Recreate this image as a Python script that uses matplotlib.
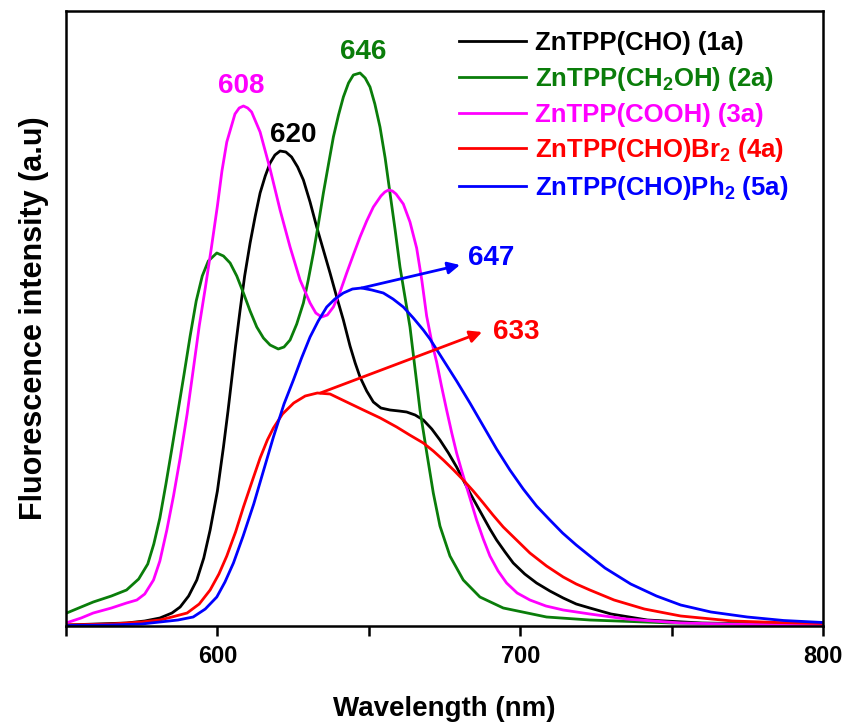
import matplotlib
matplotlib.use('Agg')
import matplotlib.pyplot as plt
import numpy as np

plt.rcParams['font.family'] = ['Liberation Sans', 'DejaVu Sans']
plt.rcParams['font.weight'] = 'bold'
plt.rcParams['mathtext.fontset'] = 'custom'
plt.rcParams['mathtext.default'] = 'bf'
plt.rcParams['mathtext.bf'] = 'Liberation Sans:bold'
plt.rcParams['mathtext.rm'] = 'Liberation Sans:bold'

# ZnTPP(CHO) (1a)
wl_1a = [550, 560, 570, 576, 581, 585, 587.7, 590.5, 593.2, 595.5, 597.6, 600, 602, 603.5,
         604.7, 606, 607.5, 609, 610.8, 612.5, 614.1, 615.8, 617.4, 619, 620.7, 622.6, 624.5,
         626.5, 628.4, 630.6, 632.8, 635, 637.2, 639.4, 641.6, 643.8, 645.5, 647.1, 649.3,
         651.5, 654, 657, 660, 662.5, 665.3, 668, 670.8, 673.5, 676.3, 679, 681.2, 683.4,
         685.6, 687.8, 690, 692.2, 695, 697.7, 701.5, 705.4, 709.8, 714.2, 718.5, 723, 730,
         742, 760, 780, 800]
int_1a = [1, 2, 3, 5, 8, 13, 19, 30, 46, 68, 96, 135, 179, 215,
          246, 280, 316, 350, 383, 410, 433, 450, 463, 471, 475, 474, 469,
          459, 446, 424, 399, 376, 353, 329, 306, 280, 263, 249, 235,
          224, 218, 216, 215, 214, 211, 206, 197, 186, 173, 159, 146, 133,
          121, 109, 97, 86, 74, 63, 52, 43, 35, 28, 22, 18, 12,
          6, 3, 2, 1.5]

# ZnTPP(CH2OH) (2a)
wl_2a = [550, 555, 559, 565, 570, 574, 577, 579, 581, 583, 585, 587, 589, 591, 593,
         595, 597, 599.8, 602, 604.2, 606.4, 608.6, 610.8, 613, 615.2, 617.4,
         620.1, 622, 624, 626.2, 628.4, 630, 631.7, 633.4, 635, 636.7, 638.3, 640, 641.6,
         643.3, 644.9, 647.1, 648.8, 650.4, 652, 653.7, 655.4, 657, 658.7, 660.3, 662, 663.6,
         665.8, 666.9, 669.1, 671.3, 673.5, 676.8, 681.2, 686.7, 694.4, 708.7, 723, 750, 800]
int_2a = [12.7, 19, 24, 30, 36, 47, 62, 82, 108, 142, 178, 215, 252, 290, 325,
          350, 365, 373, 370, 363, 350, 333, 315, 299, 288, 281,
          277, 279, 286, 302, 323, 346, 373, 403, 433, 462, 489, 511, 529,
          543, 551, 553, 548, 539, 522, 499, 468, 433, 396, 359, 328, 299,
          244, 216, 174, 133, 100, 70, 46, 29, 18, 9, 6, 3, 1.5]

# ZnTPP(COOH) (3a)
wl_3a = [550, 555, 559, 565, 570, 573.4, 576, 578.9, 581, 583.3, 585.5, 587.7, 590, 592.1,
         594, 596, 598, 600, 601.5, 603.1, 605.8, 607.2, 608.6, 610, 611.3, 614.1, 617.4,
         620.7, 624, 627.3, 630.6, 632.5, 634.4, 636.3, 638.3, 640.5, 642.7, 645, 647.1,
         649.3, 651.5, 654, 655.3, 656.5, 657.8, 659, 661.4, 663.6, 665.8, 667.5, 669.1,
         670.8, 672.4, 674, 675.7, 677.4, 679, 680.7, 682.3, 684, 685.6, 687.8, 690, 692.7,
         695.5, 699, 703.2, 708.5, 714.2, 723, 735, 753, 775, 800]
int_3a = [3, 8, 13, 18, 23, 26, 32, 46, 65, 96, 130, 168, 212, 258,
          300, 338, 378, 420, 455, 484, 512, 518, 520, 518, 514, 494, 457,
          416, 379, 346, 323, 313, 309, 311, 319, 334, 353, 372, 389,
          405, 419, 430, 434, 436, 435, 432, 422, 404, 378, 346, 310,
          284, 264, 240, 216, 193, 173, 155, 139, 122, 106, 87, 70, 55,
          43, 33, 26, 20, 16, 12, 7, 3, 1.5, 1]

# ZnTPP(CHO)Br2 (4a)
wl_4a = [550, 565, 575, 581, 585, 590, 594, 597.6, 600.5, 603.1, 606, 608.6, 611.5, 614.1,
         616.5, 618.5, 621.5, 625.2, 629, 633, 637.2, 642, 648.2, 653.8, 659.2, 663.5, 668,
         671.3, 674.6, 678, 681.2, 684.5, 687.8, 691, 694.4, 698.8, 703.2, 708.7, 714.2,
         718.5, 723, 731, 741, 753, 770, 785, 800]
int_4a = [1, 2, 4, 6, 9, 13, 22, 36, 52, 70, 94, 119, 145, 168,
          186, 198, 212, 223, 230, 233, 232, 225, 216, 208, 199, 191, 183,
          175, 166, 156, 146, 135, 123, 111, 99, 86, 73, 60, 49,
          42, 36, 26, 17, 10, 5, 3.5, 2.5]

# ZnTPP(CHO)Ph2 (5a)
wl_5a = [550, 565, 575, 581, 587, 592, 596, 599.8, 602.5, 605.3, 608.5, 612, 615, 618.5,
         622, 625.1, 627.8, 630.6, 633.3, 636.1, 638.8, 641.6, 644.6, 647.6, 651, 654.8, 658,
         661.4, 664.7, 668, 670.2, 674.6, 679, 683.4, 687.8, 692.2, 696.6, 701, 705.4, 709.8,
         714, 718.5, 723, 728, 736.5, 745, 753, 763, 775, 787, 800]
int_5a = [0.5, 1, 2, 4, 6, 9, 17, 29, 44, 63, 90, 122, 153, 189,
          222, 246, 268, 289, 305, 319, 327, 333, 337, 338, 336, 333, 327,
          319, 308, 296, 287, 266, 245, 223, 200, 177, 156, 137, 120, 106,
          93, 81, 70, 58, 42, 30, 21, 14, 9, 5.5, 3.5]

labels = ['ZnTPP(CHO) (1a)', 'ZnTPP(CH$_2$OH) (2a)', 'ZnTPP(COOH) (3a)',
          'ZnTPP(CHO)Br$_2$ (4a)', 'ZnTPP(CHO)Ph$_2$ (5a)']
colors = ['black', '#0a7d0a', '#ff00ff', '#ff0000', '#0000ff']

fig = plt.figure(figsize=(8.47, 7.27), dpi=100)
ax = fig.add_axes([66 / 847, 1 - 626 / 727, 757 / 847, 615 / 727])

series = [(wl_1a, int_1a), (wl_2a, int_2a), (wl_3a, int_3a), (wl_4a, int_4a), (wl_5a, int_5a)]
for (wl, inten), lab, c in zip(series, labels, colors):
    ax.plot(wl, inten, color=c, lw=2, label=lab, solid_joinstyle='round')

# peak labels
ax.text(607.8, 540, '608', color='#ff00ff', fontsize=20, ha='center', va='center')
ax.text(625, 491, '620', color='black', fontsize=20, ha='center', va='center')
ax.text(648.1, 574, '646', color='#0a7d0a', fontsize=20, ha='center', va='center')
ax.text(690.4, 368, '647', color='#0000ff', fontsize=20, ha='center', va='center')
ax.text(698.6, 294, '633', color='#ff0000', fontsize=20, ha='center', va='center')
ax.annotate('', xy=(680.1, 361), xytext=(647.6, 338),
            arrowprops=dict(arrowstyle='-|>', color='#0000ff', lw=2, mutation_scale=18,
                            shrinkA=0, shrinkB=0))
ax.annotate('', xy=(687.4, 294), xytext=(634, 233),
            arrowprops=dict(arrowstyle='-|>', color='#ff0000', lw=2, mutation_scale=18,
                            shrinkA=0, shrinkB=0))

ax.set_xlim(550, 800)
ax.set_ylim(0, 615)
ax.set_xticks([550, 600, 650, 700, 750, 800])
ax.set_xticklabels(['', '600', '', '700', '', '800'])
ax.set_yticks([])
ax.tick_params(axis='x', direction='out', length=7, width=1.8, labelsize=17, pad=7)
for sp in ax.spines.values():
    sp.set_linewidth(1.8)

ax.set_xlabel('Wavelength (nm)', fontsize=20, fontweight='bold', labelpad=20)
ax.set_ylabel('Fluorescence intensity (a.u)', fontsize=22, fontweight='bold', labelpad=12)

leg = ax.legend(loc='upper right', bbox_to_anchor=(0.985, 1.005), frameon=False, fontsize=18.5,
                handlelength=2.6, handletextpad=0.35, labelspacing=0.38)
for txt, c in zip(leg.get_texts(), colors):
    txt.set_color(c)

fig.savefig('out.png', dpi=100)
